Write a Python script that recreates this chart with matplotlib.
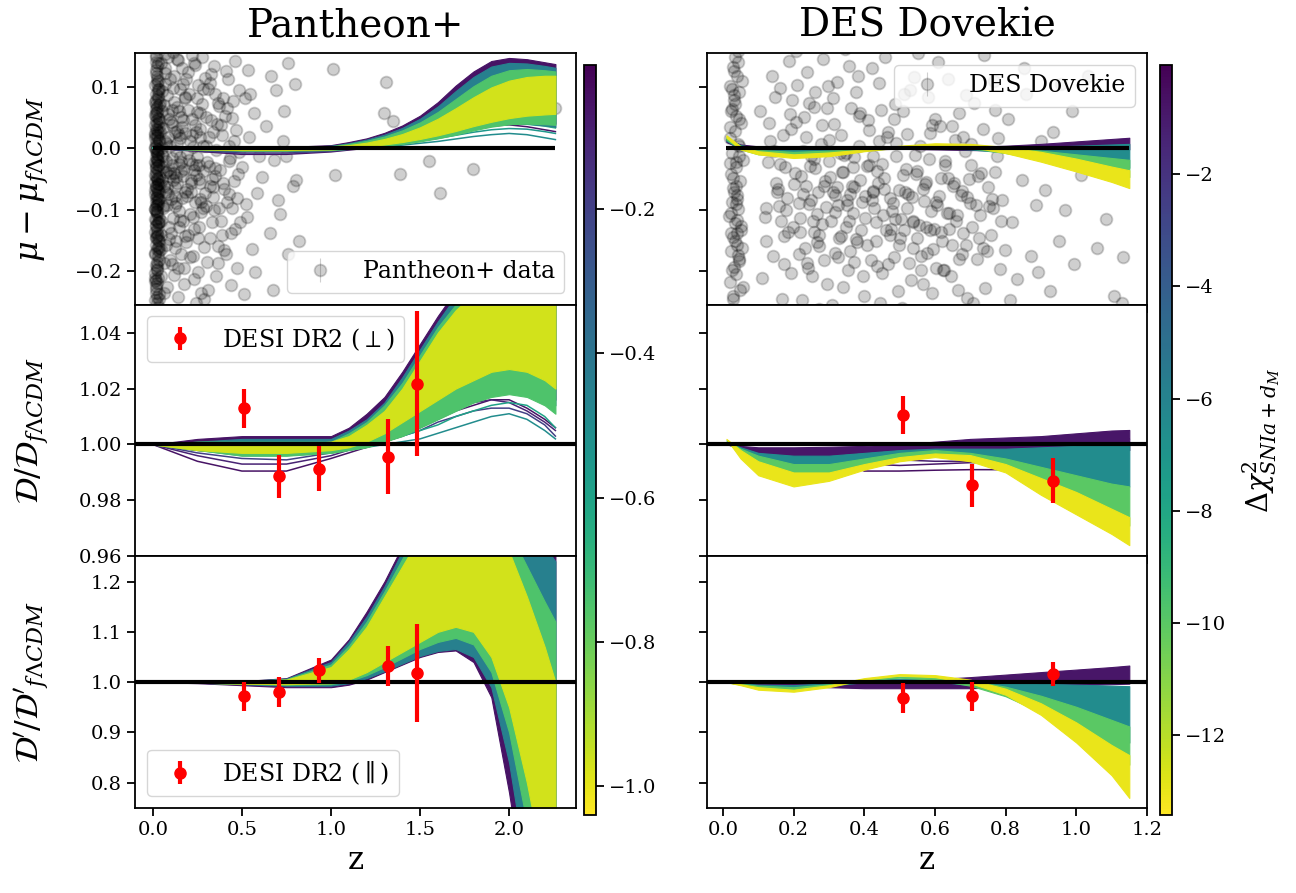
import numpy as np
import matplotlib.pyplot as plt
from matplotlib.colors import Normalize
from matplotlib.cm import ScalarMappable

plt.rcParams['font.family'] = ['DejaVu Serif']
plt.rcParams['mathtext.fontset'] = 'dejavuserif'
plt.rcParams['xtick.labelsize'] = 14
plt.rcParams['ytick.labelsize'] = 14
plt.rcParams['axes.linewidth'] = 1.3
plt.rcParams['xtick.major.width'] = 1.3
plt.rcParams['ytick.major.width'] = 1.3
plt.rcParams['xtick.major.size'] = 6
plt.rcParams['ytick.major.size'] = 6

# ---------------- Pantheon+ residuals ----------------
pan_z = [
    0.012, 0.025, 0.018, 0.031, 0.015, 0.022, 0.028, 0.010, 0.035, 0.020,
    0.027, 0.014, 0.033, 0.019, 0.024, 0.011, 0.030, 0.017, 0.022, 0.036,
    0.016, 0.029, 0.012, 0.023, 0.034, 0.019, 0.026, 0.013, 0.031, 0.021,
    0.028, 0.015, 0.024, 0.010, 0.033, 0.018, 0.027, 0.020, 0.014, 0.037,
    0.022, 0.012, 0.030, 0.017, 0.025, 0.035, 0.013, 0.021, 0.028, 0.016,
    0.031, 0.019, 0.011, 0.026, 0.023, 0.034, 0.015, 0.029, 0.018, 0.024,
    0.013, 0.027, 0.020, 0.032, 0.016, 0.024, 0.011, 0.029, 0.036, 0.019,
    0.025, 0.014, 0.030, 0.021, 0.017, 0.033, 0.012, 0.027, 0.022, 0.018,
    0.020, 0.026, 0.015, 0.031, 0.023, 0.012, 0.029, 0.018, 0.034, 0.024,
    0.017, 0.028, 0.021, 0.013, 0.032, 0.025, 0.019, 0.030, 0.015, 0.026,
    0.014, 0.021, 0.027, 0.018, 0.032, 0.011, 0.024, 0.016, 0.029, 0.020,
    0.023, 0.017, 0.030, 0.012, 0.026, 0.019, 0.034, 0.015, 0.022, 0.028,
    0.019, 0.025, 0.013, 0.031, 0.017, 0.027, 0.021, 0.010, 0.024, 0.033,
    0.026, 0.012, 0.020, 0.029, 0.015, 0.023, 0.018, 0.032, 0.014, 0.021,
    0.016, 0.030, 0.024, 0.011, 0.027, 0.019, 0.035, 0.022, 0.013, 0.025,
    0.045, 0.052, 0.061, 0.048, 0.070, 0.057, 0.066, 0.075, 0.083, 0.091,
    0.044, 0.058, 0.072, 0.086, 0.095, 0.063, 0.079, 0.050, 0.099, 0.068,
    0.104, 0.112, 0.121, 0.108, 0.130, 0.117, 0.126, 0.135, 0.143, 0.151,
    0.102, 0.115, 0.128, 0.139, 0.147, 0.156, 0.164, 0.172, 0.181, 0.189,
    0.160, 0.168, 0.177, 0.185, 0.194, 0.198, 0.153, 0.141, 0.124, 0.110,
    0.205, 0.213, 0.222, 0.230, 0.238, 0.247, 0.255, 0.264, 0.272, 0.281,
    0.208, 0.219, 0.227, 0.236, 0.244, 0.252, 0.261, 0.269, 0.277, 0.289,
    0.293, 0.216, 0.241, 0.266, 0.284, 0.297, 0.225, 0.250, 0.274, 0.233,
    0.304, 0.312, 0.321, 0.329, 0.338, 0.346, 0.355, 0.363, 0.372, 0.380,
    0.308, 0.317, 0.334, 0.351, 0.367, 0.389, 0.397, 0.325, 0.342, 0.376,
    0.405, 0.414, 0.422, 0.431, 0.440, 0.448, 0.457, 0.466, 0.474, 0.483,
    0.410, 0.427, 0.444, 0.461, 0.478, 0.492, 0.436, 0.419, 0.453, 0.470,
    0.502, 0.515, 0.528, 0.541, 0.555, 0.568, 0.582, 0.596, 0.509, 0.535,
    0.612, 0.634, 0.657, 0.681, 0.704, 0.728, 0.756, 0.785, 0.548, 0.575,
    0.056, 0.083, 0.137, 0.171, 0.199, 0.258, 0.319, 0.359, 0.393, 0.425,
    0.074, 0.091, 0.118, 0.147, 0.183, 0.221, 0.262, 0.301, 0.347, 0.386,
    0.665, 0.690, 0.712, 0.737, 0.761, 0.803, 0.821, 0.672, 0.745, 0.798,
    0.035, 0.042, 0.047, 0.054, 0.059, 0.064, 0.069, 0.077, 0.081, 0.088,
    0.038, 0.046, 0.053, 0.062, 0.067, 0.073, 0.079, 0.087, 0.094, 0.097,
    0.101, 0.107, 0.113, 0.119, 0.125, 0.132, 0.138, 0.145, 0.152, 0.158,
    0.106, 0.114, 0.122, 0.129, 0.136, 0.144, 0.149, 0.162, 0.169, 0.176,
    0.166, 0.174, 0.179, 0.187, 0.192, 0.196, 0.201, 0.211, 0.218, 0.224,
    0.229, 0.235, 0.242, 0.248, 0.254, 0.259, 0.267, 0.271, 0.279, 0.286,
    0.291, 0.299, 0.306, 0.314, 0.322, 0.331, 0.339, 0.348, 0.356, 0.366,
    0.374, 0.383, 0.391, 0.401, 0.412, 0.429, 0.446, 0.463, 0.486, 0.521,
    0.041, 0.058, 0.085, 0.109, 0.133, 0.157, 0.183, 0.207, 0.232, 0.262,
    0.049, 0.071, 0.096, 0.127, 0.154, 0.178, 0.215, 0.245, 0.283, 0.336,
    1.01, 1.31, 1.30, 1.35, 2.26, 1.02, 1.39, 1.55, 1.80, 1.61,
]
pan_mu = [
    0.182, 0.161, 0.148, 0.139, 0.127, 0.118, 0.110, 0.103, 0.096, 0.088,
    0.081, 0.075, 0.070, 0.064, 0.059, 0.054, 0.049, 0.044, 0.040, 0.035,
    0.031, 0.026, 0.022, 0.018, 0.013, 0.009, 0.005, 0.001, -0.003, -0.007,
    -0.011, -0.015, -0.019, -0.023, -0.027, -0.031, -0.035, -0.039, -0.043, -0.047,
    -0.051, -0.055, -0.059, -0.063, -0.067, -0.071, -0.075, -0.079, -0.083, -0.087,
    -0.091, -0.095, -0.099, -0.104, -0.108, -0.113, -0.117, -0.122, -0.127, -0.132,
    -0.137, -0.142, -0.147, -0.152, -0.158, -0.164, -0.170, -0.176, -0.183, -0.190,
    -0.197, -0.204, -0.212, -0.220, -0.229, -0.238, -0.248, -0.259, -0.270, -0.285,
    0.052, 0.021, -0.004, -0.028, -0.049, -0.068, -0.086, -0.103, -0.121, -0.143,
    0.122, 0.093, 0.067, 0.038, 0.012, -0.017, -0.062, -0.161, -0.214, -0.252,
    0.167, 0.134, 0.097, 0.072, 0.043, 0.016, -0.009, -0.033, -0.058, -0.081,
    -0.102, -0.125, -0.149, -0.173, -0.198, -0.224, -0.245, 0.152, 0.113, 0.085,
    0.057, 0.029, 0.002, -0.021, -0.045, -0.069, -0.093, -0.116, -0.139, -0.163,
    -0.186, -0.211, -0.236, -0.265, 0.141, 0.106, 0.078, 0.047, 0.024, -0.001,
    -0.026, -0.052, -0.076, -0.099, -0.121, -0.145, -0.168, -0.192, -0.217, -0.243,
    0.138, -0.052, 0.071, -0.164, 0.012, -0.097, 0.104, -0.021, 0.055, -0.128,
    -0.208, 0.033, -0.071, 0.149, -0.046, -0.236, 0.087, 0.001, -0.182, 0.122,
    0.042, -0.113, 0.118, -0.027, -0.151, 0.075, -0.064, 0.009, -0.196, 0.097,
    -0.082, 0.156, -0.005, -0.242, 0.061, -0.037, 0.131, -0.119, 0.024, -0.078,
    -0.172, 0.046, -0.221, 0.112, -0.008, -0.141, 0.016, 0.143, -0.094, -0.189,
    0.089, -0.056, 0.021, -0.132, 0.136, -0.015, -0.201, 0.058, -0.088, 0.004,
    -0.107, 0.151, -0.175, 0.037, -0.044, 0.103, -0.129, -0.236, 0.072, -0.161,
    0.115, -0.071, -0.252, 0.031, -0.037, -0.094, 0.002, 0.081, 0.148, -0.213,
    -0.022, 0.097, -0.146, 0.046, -0.079, 0.134, -0.003, -0.187, 0.068, -0.118,
    -0.231, 0.018, -0.051, 0.088, -0.159, 0.021, -0.067, 0.121, -0.101, -0.035,
    0.052, -0.088, 0.113, -0.016, -0.139, 0.077, -0.053, 0.029, -0.196, 0.094,
    -0.172, 0.004, -0.098, 0.142, -0.042, -0.121, -0.223, 0.066, 0.011, -0.081,
    -0.031, 0.081, -0.112, 0.018, -0.164, 0.058, -0.073, -0.012, -0.238, 0.128,
    -0.047, 0.036, -0.138, -0.019, -0.084, 0.012, -0.173, -0.061, 0.089, -0.201,
    -0.013, -0.035, 0.028, -0.046, 0.062, -0.028, -0.062, 0.039, 0.081, -0.021,
    0.009, -0.148, -0.041, -0.102, 0.084, -0.026, -0.056, 0.003, -0.033, -0.142,
    0.118, 0.094, -0.107, 0.061, 0.139, -0.052, -0.152, -0.231, -0.012, 0.105,
    -0.083, 0.027, -0.142, 0.093, -0.031, -0.187, 0.154, -0.064, -0.226, 0.048,
    0.073, -0.118, -0.011, -0.062, 0.131, -0.157, -0.093, 0.019, 0.112, -0.041,
    -0.138, 0.063, -0.052, -0.207, 0.027, -0.089, 0.145, -0.025, -0.117, 0.051,
    -0.016, 0.098, -0.163, -0.047, 0.067, -0.128, 0.022, -0.081, 0.105, -0.195,
    0.034, -0.034, 0.081, -0.153, -0.066, 0.124, -0.019, -0.177, 0.047, -0.112,
    0.139, -0.087, -0.028, 0.059, -0.146, -0.051, 0.018, -0.104, 0.096, -0.245,
    -0.073, 0.051, -0.186, -0.029, 0.106, -0.121, 0.026, -0.045, -0.209, 0.073,
    -0.098, 0.037, -0.057, -0.166, 0.126, -0.075, 0.049, -0.131, -0.006, -0.091,
    -0.058, -0.094, -0.074, 0.038, -0.057, -0.023, -0.071, 0.012, -0.036, -0.083,
    0.061, -0.039, 0.004, -0.078, -0.015, -0.143, -0.052, 0.026, -0.097, -0.064,
    0.129, 0.108, 0.057, 0.044, 0.066, -0.044, -0.042, -0.021, -0.034, -0.073,
]

# ---------------- DES Dovekie residuals ----------------
des_z = [
    0.022, 0.035, 0.028, 0.041, 0.019, 0.047, 0.031, 0.025, 0.038, 0.052,
    0.033, 0.020, 0.044, 0.027, 0.056, 0.036, 0.024, 0.049, 0.030, 0.039,
    0.026, 0.043, 0.018, 0.034, 0.050, 0.029, 0.040, 0.023, 0.046, 0.032,
    0.037, 0.021, 0.048, 0.030, 0.025, 0.042, 0.054, 0.033, 0.019, 0.045,
    0.028, 0.039, 0.023, 0.051, 0.035, 0.044, 0.027, 0.031, 0.047, 0.036,
    0.040, 0.024, 0.058, 0.032, 0.045, 0.021, 0.037, 0.053, 0.029, 0.043,
    0.105, 0.118, 0.127, 0.134, 0.142, 0.151, 0.163, 0.172, 0.181, 0.194,
    0.112, 0.139, 0.158, 0.177, 0.189, 0.123, 0.146, 0.168, 0.198, 0.131,
    0.186, 0.155, 0.121, 0.174, 0.148, 0.203, 0.211, 0.219, 0.227, 0.234,
    0.242, 0.249, 0.257, 0.265, 0.272, 0.280, 0.288, 0.295, 0.206, 0.214,
    0.223, 0.231, 0.238, 0.246, 0.254, 0.262, 0.269, 0.277, 0.285, 0.292,
    0.208, 0.236, 0.259, 0.283, 0.299, 0.217, 0.244, 0.271, 0.226, 0.253,
    0.303, 0.311, 0.318, 0.326, 0.334, 0.341, 0.349, 0.357, 0.364, 0.372,
    0.380, 0.387, 0.395, 0.306, 0.322, 0.338, 0.353, 0.369, 0.384, 0.398,
    0.314, 0.329, 0.345, 0.361, 0.376, 0.391, 0.308, 0.331, 0.359, 0.382,
    0.323, 0.367, 0.352, 0.403, 0.411, 0.418, 0.426, 0.434, 0.441, 0.449,
    0.457, 0.464, 0.472, 0.480, 0.487, 0.495, 0.407, 0.422, 0.438, 0.453,
    0.468, 0.483, 0.498, 0.414, 0.429, 0.445, 0.460, 0.476, 0.491, 0.436,
    0.503, 0.511, 0.519, 0.526, 0.534, 0.542, 0.549, 0.557, 0.565, 0.572,
    0.580, 0.588, 0.595, 0.507, 0.522, 0.538, 0.553, 0.568, 0.584, 0.599,
    0.515, 0.546, 0.576, 0.530, 0.561, 0.591, 0.605, 0.613, 0.621, 0.629,
    0.637, 0.645, 0.652, 0.660, 0.668, 0.676, 0.684, 0.692, 0.699, 0.610,
    0.626, 0.641, 0.657, 0.673, 0.688, 0.618, 0.649, 0.680, 0.703, 0.711,
    0.719, 0.727, 0.735, 0.743, 0.751, 0.759, 0.767, 0.775, 0.783, 0.791,
    0.708, 0.739, 0.771, 0.797, 0.806, 0.818, 0.831, 0.845, 0.858, 0.872,
    0.886, 0.899, 0.813, 0.852, 0.893, 0.912, 0.934, 0.951, 0.968, 0.987,
    0.926, 0.958, 0.993, 1.012, 1.034, 1.058, 1.083, 1.106, 1.128, 1.131,
    0.164, 0.193, 0.267, 0.296, 0.343, 0.371, 0.447, 0.488, 0.539, 0.586,
    0.633, 0.664, 0.697, 0.725, 0.763, 0.248, 0.318, 0.425, 0.512, 0.603,
    0.152, 0.171, 0.185, 0.201, 0.216, 0.229, 0.243, 0.258, 0.273, 0.287,
    0.301, 0.316, 0.327, 0.339, 0.351, 0.363, 0.377, 0.389, 0.401, 0.413,
    0.424, 0.437, 0.449, 0.461, 0.473, 0.485, 0.497, 0.509, 0.521, 0.533,
    0.544, 0.556, 0.567, 0.579, 0.591, 0.603, 0.616, 0.628, 0.641, 0.654,
    0.667, 0.679, 0.692, 0.706, 0.721, 0.737, 0.753, 0.769, 0.787, 0.162,
    0.178, 0.196, 0.221, 0.239, 0.262, 0.281, 0.297, 0.312, 0.333, 0.347,
    0.358, 0.372, 0.386, 0.397, 0.409, 0.421, 0.432, 0.443, 0.455, 0.466,
    0.478, 0.489, 0.501, 0.513, 0.524, 0.537, 0.549, 0.562, 0.574, 0.587,
    0.598, 0.611, 0.623, 0.636, 0.648, 0.662, 0.676, 0.689, 0.701, 0.715,
    0.731, 0.746, 0.762, 0.778, 0.032, 0.027, 0.041, 0.036, 0.024, 0.045,
]
des_mu = [
    0.171, 0.148, 0.133, 0.117, 0.102, 0.091, 0.079, 0.064, 0.052, 0.041,
    0.028, 0.017, 0.006, -0.008, -0.019, -0.031, -0.042, -0.054, -0.065, -0.076,
    -0.088, -0.099, -0.111, -0.122, -0.134, -0.145, -0.157, -0.168, -0.181, -0.193,
    -0.205, -0.218, -0.231, -0.246, -0.262, 0.159, 0.109, 0.072, 0.035, -0.012,
    -0.048, -0.083, -0.105, -0.127, -0.152, -0.174, -0.199, 0.125, 0.003, -0.062,
    -0.117, -0.139, -0.226, 0.086, 0.047, -0.024, -0.091, -0.163, -0.241, 0.140,
    0.061, -0.112, -0.023, 0.012, -0.175, -0.057, 0.098, -0.143, -0.081, 0.031,
    -0.212, 0.118, -0.094, -0.031, 0.056, -0.152, -0.004, -0.245, -0.128, 0.041,
    0.142, -0.066, -0.097, -0.188, 0.084, -0.041, 0.103, -0.137, -0.074, 0.018,
    -0.196, -0.012, 0.067, -0.108, -0.159, 0.037, -0.053, -0.221, 0.158, -0.089,
    -0.248, -0.162, 0.124, -0.029, -0.118, 0.091, -0.071, 0.006, -0.183, -0.096,
    0.043, -0.062, -0.137, 0.146, -0.021, -0.114, 0.073, -0.262, -0.005, -0.208,
    -0.047, 0.082, -0.171, -0.093, 0.021, -0.226, -0.128, 0.134, -0.061, -0.015,
    -0.153, 0.057, -0.087, -0.119, 0.108, -0.039, -0.198, -0.106, 0.003, -0.241,
    0.039, -0.147, 0.161, -0.074, 0.091, -0.134, -0.255, -0.008, -0.168, 0.118,
    -0.064, -0.031, -0.093, -0.078, 0.046, -0.182, -0.012, -0.121, 0.107, -0.203,
    -0.049, 0.018, -0.141, -0.089, 0.072, -0.232, -0.157, 0.131, -0.056, -0.109,
    0.027, -0.177, -0.068, -0.027, -0.098, -0.253, 0.149, -0.132, 0.009, -0.037,
    -0.115, 0.061, -0.034, -0.187, -0.079, 0.116, -0.146, 0.004, -0.221, -0.058,
    0.083, -0.102, -0.165, -0.261, 0.023, -0.118, 0.155, -0.086, -0.017, 0.047,
    -0.071, -0.042, -0.129, 0.094, -0.198, -0.236, -0.093, 0.036, -0.152, -0.027,
    0.112, -0.209, -0.061, -0.118, 0.058, -0.172, -0.004, -0.244, -0.089, 0.141,
    -0.198, -0.132, 0.013, -0.077, 0.087, -0.049, -0.157, -0.139, -0.028, 0.073,
    -0.181, -0.109, 0.031, -0.227, -0.064, -0.142, 0.109, -0.012, -0.197, -0.084,
    -0.253, 0.152, -0.038, -0.166, 0.048, -0.121, -0.213, -0.052, 0.088, -0.176,
    -0.093, 0.012, -0.247, 0.131, -0.201, -0.068, 0.027, -0.151, -0.101, 0.061,
    -0.232, 0.104, -0.189, -0.043, 0.117, -0.162, -0.115, -0.241, -0.252, -0.178,
    -0.118, -0.203, -0.153, 0.066, -0.011, -0.186, 0.063, -0.116, -0.162, -0.134,
    -0.106, -0.231, -0.051, -0.146, -0.097, -0.084, -0.077, -0.072, -0.133, -0.195,
    -0.071, 0.022, -0.136, -0.058, -0.172, 0.051, -0.091, -0.018, -0.141, -0.062,
    0.014, -0.104, -0.177, -0.039, -0.084, 0.066, -0.148, -0.052, -0.113, 0.029,
    -0.069, -0.192, -0.026, -0.133, -0.081, 0.047, -0.158, -0.043, -0.097, -0.214,
    -0.011, -0.125, -0.066, -0.171, 0.038, -0.088, -0.137, -0.021, -0.106, -0.057,
    -0.181, 0.019, -0.079, -0.128, -0.046, -0.163, -0.094, 0.063, -0.119, -0.026,
    -0.101, 0.079, -0.045, -0.187, -0.032, -0.124, 0.102, -0.071, -0.143, -0.008,
    -0.118, -0.063, 0.053, -0.209, -0.029, -0.085, -0.152, 0.011, -0.066, -0.189,
    -0.102, -0.013, -0.147, 0.088, -0.074, -0.121, -0.037, -0.176, -0.055, 0.024,
    -0.131, -0.078, -0.199, -0.048, 0.036, -0.109, -0.069, -0.157, 0.007, -0.092,
    -0.041, -0.168, -0.083, 0.017, -0.072, 0.096, -0.139, -0.023, 0.061, -0.184,
]

# ---------------- DESI DR2 BAO points ----------------
desi_z = [0.510, 0.706, 0.934, 1.321, 1.484]
pan_dm = [1.013, 0.9886, 0.9914, 0.9957, 1.0218]
pan_dm_err = [0.0070, 0.0077, 0.0080, 0.0134, 0.0260]
pan_dh = [0.972, 0.980, 1.024, 1.032, 1.018]
pan_dh_err = [0.029, 0.030, 0.025, 0.039, 0.097]
des_dm = [1.0104, 0.9854, 0.9870]
des_dm_err = [0.0068, 0.0078, 0.0080]
des_dh = [0.968, 0.972, 1.016]
des_dh_err = [0.030, 0.029, 0.024]

# ---------------- curve families: envelopes per colour group + stray curves ----------------
pan_nodes = [0.0, 0.25, 0.5, 0.75, 1.0, 1.1, 1.2, 1.3, 1.4, 1.5, 1.6, 1.7, 1.8, 1.9, 2.0, 2.1, 2.2, 2.26]
pan_chi = [-0.05, -0.45, -0.75, -0.97]
pan_mu_hi = [
    [0.000, 0.001, 0.001, 0.002, 0.005, 0.010, 0.016, 0.025, 0.037, 0.053, 0.075, 0.102, 0.125, 0.142, 0.147, 0.145, 0.140, 0.137],
    [0.000, 0.000, 0.000, 0.001, 0.004, 0.008, 0.014, 0.022, 0.033, 0.048, 0.068, 0.093, 0.116, 0.133, 0.139, 0.138, 0.134, 0.131],
    [0.000, 0.000, 0.000, 0.001, 0.003, 0.007, 0.012, 0.019, 0.029, 0.042, 0.059, 0.080, 0.101, 0.118, 0.127, 0.129, 0.127, 0.125],
    [0.000, 0.000, 0.001, 0.001, 0.003, 0.005, 0.009, 0.015, 0.023, 0.034, 0.048, 0.065, 0.083, 0.099, 0.110, 0.116, 0.118, 0.118],
]
pan_mu_lo = [
    [0.000, -0.003, -0.005, -0.005, -0.003, -0.001, 0.002, 0.006, 0.011, 0.017, 0.024, 0.031, 0.038, 0.043, 0.046, 0.045, 0.042, 0.040],
    [0.000, -0.003, -0.004, -0.004, -0.003, -0.001, 0.001, 0.005, 0.009, 0.014, 0.020, 0.026, 0.032, 0.037, 0.040, 0.040, 0.037, 0.035],
    [0.000, -0.002, -0.004, -0.004, -0.003, -0.001, 0.001, 0.004, 0.007, 0.011, 0.016, 0.022, 0.029, 0.035, 0.039, 0.040, 0.039, 0.038],
    [0.000, -0.002, -0.003, -0.003, -0.002, 0.000, 0.003, 0.006, 0.010, 0.015, 0.021, 0.028, 0.036, 0.043, 0.049, 0.053, 0.055, 0.056],
]
pan_mu_line_chi = [-0.05, -0.2, -0.5, -0.55, -0.65]
pan_mu_lines = [
    [0.000, -0.005, -0.010, -0.010, -0.006, -0.003, 0.000, 0.004, 0.009, 0.015, 0.021, 0.027, 0.032, 0.036, 0.038, 0.035, 0.030, 0.027],
    [0.000, -0.004, -0.008, -0.008, -0.005, -0.002, 0.001, 0.005, 0.010, 0.016, 0.022, 0.029, 0.035, 0.040, 0.043, 0.041, 0.037, 0.034],
    [0.000, -0.003, -0.005, -0.005, -0.003, -0.001, 0.001, 0.003, 0.005, 0.008, 0.011, 0.015, 0.019, 0.022, 0.024, 0.022, 0.017, 0.014],
    [0.000, -0.003, -0.005, -0.004, -0.002, 0.000, 0.002, 0.005, 0.008, 0.012, 0.016, 0.021, 0.026, 0.030, 0.032, 0.031, 0.027, 0.024],
    [0.000, -0.002, -0.004, -0.004, -0.002, 0.000, 0.003, 0.006, 0.010, 0.014, 0.019, 0.025, 0.031, 0.036, 0.039, 0.039, 0.036, 0.033],
]
pan_dm_hi = [
    [1.000, 1.002, 1.003, 1.003, 1.003, 1.006, 1.011, 1.017, 1.026, 1.036, 1.046, 1.055, 1.063, 1.070, 1.076, 1.080, 1.082, 1.082],
    [1.000, 1.001, 1.002, 1.002, 1.002, 1.005, 1.009, 1.015, 1.024, 1.034, 1.044, 1.053, 1.061, 1.067, 1.072, 1.075, 1.076, 1.075],
    [1.000, 1.001, 1.001, 1.001, 1.001, 1.004, 1.008, 1.014, 1.022, 1.032, 1.042, 1.050, 1.057, 1.062, 1.066, 1.068, 1.068, 1.067],
    [1.000, 1.000, 1.000, 1.000, 1.001, 1.003, 1.007, 1.012, 1.020, 1.030, 1.040, 1.048, 1.054, 1.058, 1.060, 1.061, 1.060, 1.058],
]
pan_dm_lo = [
    [1.000, 0.998, 0.997, 0.997, 0.998, 0.999, 1.000, 1.002, 1.005, 1.009, 1.013, 1.017, 1.020, 1.022, 1.023, 1.022, 1.019, 1.016],
    [1.000, 0.998, 0.997, 0.997, 0.998, 0.999, 1.000, 1.002, 1.004, 1.007, 1.011, 1.015, 1.018, 1.020, 1.021, 1.020, 1.017, 1.014],
    [1.000, 0.998, 0.996, 0.996, 0.997, 0.998, 0.999, 1.001, 1.003, 1.006, 1.009, 1.012, 1.015, 1.017, 1.018, 1.017, 1.014, 1.011],
    [1.000, 0.998, 0.997, 0.997, 0.998, 0.999, 1.001, 1.004, 1.008, 1.012, 1.016, 1.020, 1.023, 1.026, 1.027, 1.026, 1.023, 1.020],
]
pan_dm_line_chi = [-0.05, -0.1, -0.2, -0.5, -0.6]
pan_dm_lines = [
    [1.000, 0.994, 0.9905, 0.9905, 0.995, 0.997, 0.999, 1.001, 1.003, 1.006, 1.009, 1.012, 1.014, 1.016, 1.016, 1.013, 1.009, 1.006],
    [1.000, 0.996, 0.993, 0.993, 0.996, 0.998, 1.000, 1.002, 1.004, 1.007, 1.010, 1.013, 1.015, 1.016, 1.015, 1.012, 1.008, 1.005],
    [1.000, 0.997, 0.995, 0.9945, 0.997, 0.998, 0.999, 1.001, 1.003, 1.005, 1.008, 1.010, 1.012, 1.013, 1.013, 1.011, 1.007, 1.003],
    [1.000, 0.998, 0.996, 0.996, 0.997, 0.998, 0.999, 1.000, 1.001, 1.002, 1.004, 1.006, 1.008, 1.010, 1.011, 1.009, 1.005, 1.002],
    [1.000, 0.998, 0.997, 0.997, 0.998, 0.999, 1.000, 1.001, 1.003, 1.005, 1.007, 1.010, 1.012, 1.014, 1.015, 1.014, 1.010, 1.006],
]
pan_dh_hi = [
    [1.000, 1.000, 1.002, 1.008, 1.045, 1.085, 1.140, 1.200, 1.270, 1.330, 1.380, 1.410, 1.420, 1.400, 1.360, 1.320, 1.280, 1.260],
    [1.000, 1.000, 1.002, 1.007, 1.040, 1.080, 1.130, 1.190, 1.260, 1.320, 1.370, 1.400, 1.410, 1.390, 1.350, 1.310, 1.270, 1.240],
    [1.000, 1.000, 1.001, 1.006, 1.035, 1.072, 1.120, 1.180, 1.245, 1.305, 1.355, 1.385, 1.390, 1.360, 1.300, 1.230, 1.160, 1.120],
    [1.000, 1.000, 1.001, 1.005, 1.030, 1.065, 1.110, 1.170, 1.230, 1.290, 1.340, 1.370, 1.370, 1.330, 1.260, 1.170, 1.070, 1.000],
]
pan_dh_lo = [
    [1.000, 0.998, 0.994, 0.990, 0.990, 0.995, 1.005, 1.020, 1.035, 1.050, 1.060, 1.063, 1.040, 0.970, 0.780, 0.550, 0.350, 0.250],
    [1.000, 0.999, 0.996, 0.993, 0.993, 0.998, 1.008, 1.022, 1.037, 1.052, 1.062, 1.066, 1.050, 0.990, 0.840, 0.620, 0.420, 0.320],
    [1.000, 0.999, 0.997, 0.995, 0.996, 1.002, 1.014, 1.030, 1.048, 1.066, 1.080, 1.088, 1.075, 1.020, 0.900, 0.720, 0.530, 0.430],
    [1.000, 0.999, 0.997, 0.996, 0.998, 1.005, 1.020, 1.040, 1.060, 1.080, 1.100, 1.110, 1.100, 1.050, 0.950, 0.800, 0.620, 0.500],
]

des_nodes = [0.01, 0.05, 0.1, 0.2, 0.3, 0.4, 0.5, 0.6, 0.7, 0.8, 0.9, 1.0, 1.1, 1.15]
des_chi = [-0.8, -6.5, -10.0, -13.0]
des_mu_hi = [
    [0.015, 0.006, 0.003, 0.001, 0.000, 0.000, 0.000, 0.001, 0.002, 0.004, 0.007, 0.011, 0.015, 0.017],
    [0.016, 0.005, 0.000, -0.002, -0.001, 0.000, 0.002, 0.003, 0.003, 0.002, 0.002, 0.004, 0.006, 0.007],
    [0.018, 0.004, -0.003, -0.006, -0.004, -0.001, 0.003, 0.005, 0.004, 0.001, -0.004, -0.010, -0.016, -0.019],
    [0.021, 0.003, -0.005, -0.010, -0.007, -0.002, 0.004, 0.008, 0.007, 0.002, -0.006, -0.017, -0.030, -0.036],
]
des_mu_lo = [
    [0.010, 0.000, -0.004, -0.006, -0.004, -0.002, -0.001, -0.002, -0.003, -0.004, -0.004, -0.003, -0.002, -0.002],
    [0.012, -0.001, -0.007, -0.010, -0.007, -0.003, 0.000, 0.000, -0.002, -0.007, -0.013, -0.020, -0.028, -0.032],
    [0.014, -0.002, -0.010, -0.013, -0.010, -0.004, 0.001, 0.002, 0.000, -0.008, -0.018, -0.029, -0.041, -0.047],
    [0.017, -0.002, -0.010, -0.016, -0.013, -0.005, 0.001, 0.004, 0.002, -0.008, -0.022, -0.038, -0.055, -0.065],
]
des_dm_hi = [
    [1.000, 0.9995, 0.999, 0.999, 0.9992, 0.9995, 1.000, 1.001, 1.002, 1.0025, 1.003, 1.004, 1.005, 1.0052],
    [1.001, 0.999, 0.997, 0.996, 0.996, 0.997, 0.998, 0.9985, 0.9985, 0.9985, 0.999, 0.9995, 0.9995, 0.9995],
    [1.0015, 0.9985, 0.996, 0.993, 0.993, 0.995, 0.997, 0.998, 0.997, 0.995, 0.992, 0.989, 0.986, 0.985],
    [1.002, 0.998, 0.994, 0.990, 0.990, 0.993, 0.9955, 0.9968, 0.9962, 0.993, 0.988, 0.983, 0.977, 0.974],
]
des_dm_lo = [
    [1.000, 0.999, 0.997, 0.9955, 0.996, 0.997, 0.998, 0.998, 0.998, 0.9975, 0.9975, 0.998, 0.998, 0.998],
    [1.001, 0.997, 0.993, 0.990, 0.990, 0.993, 0.995, 0.996, 0.995, 0.993, 0.990, 0.988, 0.986, 0.985],
    [1.0015, 0.996, 0.991, 0.987, 0.988, 0.992, 0.995, 0.996, 0.995, 0.991, 0.986, 0.980, 0.974, 0.971],
    [1.002, 0.995, 0.989, 0.985, 0.987, 0.991, 0.994, 0.9955, 0.994, 0.990, 0.982, 0.975, 0.968, 0.964],
]
des_dm_line_chi = [-0.6, -0.9, -1.2]
des_dm_lines = [
    [1.000, 0.999, 0.998, 0.997, 0.996, 0.9905, 0.9905, 0.9908, 0.991, 0.991, 0.994, 0.997, 0.999, 1.000],
    [1.000, 0.999, 0.998, 0.997, 0.996, 0.993, 0.9925, 0.993, 0.9935, 0.9935, 0.995, 0.998, 1.000, 1.001],
    [1.000, 0.999, 0.998, 0.997, 0.9965, 0.995, 0.9945, 0.994, 0.994, 0.9945, 0.996, 0.999, 1.001, 1.002],
]
des_dh_hi = [
    [1.000, 0.999, 0.998, 0.999, 1.000, 1.001, 1.003, 1.006, 1.010, 1.015, 1.020, 1.025, 1.030, 1.033],
    [1.000, 0.998, 0.995, 0.994, 0.998, 1.004, 1.007, 1.007, 1.004, 1.000, 0.997, 0.995, 0.993, 0.992],
    [1.000, 0.997, 0.993, 0.990, 0.996, 1.006, 1.011, 1.010, 1.003, 0.991, 0.973, 0.951, 0.925, 0.912],
    [1.000, 0.996, 0.990, 0.985, 0.994, 1.008, 1.016, 1.014, 1.005, 0.987, 0.958, 0.920, 0.875, 0.855],
]
des_dh_lo = [
    [1.000, 0.998, 0.996, 0.994, 0.990, 0.988, 0.988, 0.988, 0.988, 0.990, 0.992, 0.994, 0.996, 0.997],
    [1.000, 0.996, 0.991, 0.988, 0.993, 1.000, 1.004, 1.002, 0.994, 0.978, 0.955, 0.925, 0.895, 0.880],
    [1.000, 0.995, 0.988, 0.985, 0.992, 1.004, 1.009, 1.005, 0.993, 0.972, 0.940, 0.900, 0.858, 0.836],
    [1.000, 0.994, 0.985, 0.981, 0.990, 1.005, 1.013, 1.010, 0.998, 0.975, 0.935, 0.880, 0.815, 0.770],
]

cmap = plt.get_cmap('viridis_r')
pan_norm = Normalize(vmin=-1.04, vmax=0.0)
des_norm = Normalize(vmin=-13.43, vmax=-0.05)


def draw_fan(ax, nodes, chis, lows, highs, norm):
    for chi, lo, hi in zip(chis, lows, highs):
        ax.fill_between(nodes, lo, hi, color=cmap(norm(chi)), lw=0.8, zorder=2)


def draw_lines(ax, nodes, chis, lines, norm):
    for chi, line in zip(chis, lines):
        ax.plot(nodes, line, color=cmap(norm(chi)), lw=1.1, zorder=2)


def draw_sn(ax, z, mu, label):
    ax.errorbar(z, mu, yerr=0.0, fmt='o', color='k', ms=8.5, mew=1.3,
                alpha=0.19, elinewidth=0.8, label=label, zorder=1)


fig = plt.figure(figsize=(12.96, 8.93), dpi=100)
h = 0.2818
bottoms = [0.6588, 0.3770, 0.0952]
axL = [fig.add_axes([0.1042, b, 0.3403, h]) for b in bottoms]
axR = [fig.add_axes([0.5455, b, 0.3395, h]) for b in bottoms]

# ---- left column: Pantheon+ ----
ax = axL[0]
draw_sn(ax, pan_z, pan_mu, 'Pantheon+ data')
draw_lines(ax, pan_nodes, pan_mu_line_chi, pan_mu_lines, pan_norm)
draw_fan(ax, pan_nodes, pan_chi, pan_mu_lo, pan_mu_hi, pan_norm)
ax.hlines(0.0, pan_nodes[0], pan_nodes[-1], color='k', lw=3, zorder=3)
ax.set_ylim(-0.255, 0.155)
ax.set_yticks([0.1, 0.0, -0.1, -0.2])
ax.set_ylabel(r'$\mu-\mu_{f\Lambda CDM}$', fontsize=23)
ax.set_title('Pantheon+', fontsize=28, pad=12)
ax.legend(loc='lower right', fontsize=17)

ax = axL[1]
draw_lines(ax, pan_nodes, pan_dm_line_chi, pan_dm_lines, pan_norm)
draw_fan(ax, pan_nodes, pan_chi, pan_dm_lo, pan_dm_hi, pan_norm)
ax.axhline(1.0, color='k', lw=3, zorder=3)
ax.errorbar(desi_z, pan_dm, yerr=pan_dm_err, fmt='o', color='red', ms=8,
            elinewidth=3, label=r'DESI DR2 ($\perp$)', zorder=4)
ax.set_ylim(0.96, 1.05)
ax.set_yticks([0.96, 0.98, 1.00, 1.02, 1.04])
ax.set_ylabel(r'$\mathcal{D}/\mathcal{D}_{f\Lambda CDM}$', fontsize=23)
ax.legend(loc='upper left', fontsize=17)

ax = axL[2]
draw_fan(ax, pan_nodes, pan_chi, pan_dh_lo, pan_dh_hi, pan_norm)
ax.axhline(1.0, color='k', lw=3, zorder=3)
ax.errorbar(desi_z, pan_dh, yerr=pan_dh_err, fmt='o', color='red', ms=8,
            elinewidth=3, label=r'DESI DR2 ($\parallel$)', zorder=4)
ax.set_ylim(0.75, 1.25)
ax.set_yticks([0.8, 0.9, 1.0, 1.1, 1.2])
ax.set_ylabel(r"$\mathcal{D}'/\mathcal{D}'_{f\Lambda CDM}$", fontsize=23)
ax.set_xlabel('z', fontsize=22)
ax.legend(loc='lower left', fontsize=17)

for ax in axL:
    ax.set_xlim(-0.1, 2.376)
    ax.set_xticks([0.0, 0.5, 1.0, 1.5, 2.0])
    ax.yaxis.set_label_coords(-0.19, 0.5)
for ax in axL[:2]:
    ax.tick_params(labelbottom=False)

# ---- right column: DES Dovekie ----
ax = axR[0]
draw_sn(ax, des_z, des_mu, 'DES Dovekie')
draw_fan(ax, des_nodes, des_chi, des_mu_lo, des_mu_hi, des_norm)
ax.hlines(0.0, des_nodes[0], des_nodes[-1], color='k', lw=3, zorder=3)
ax.set_ylim(-0.255, 0.155)
ax.set_yticks([0.1, 0.0, -0.1, -0.2])
ax.set_title('DES Dovekie', fontsize=28, pad=12)
ax.legend(loc='upper right', fontsize=17)

ax = axR[1]
draw_lines(ax, des_nodes, des_dm_line_chi, des_dm_lines, des_norm)
draw_fan(ax, des_nodes, des_chi, des_dm_lo, des_dm_hi, des_norm)
ax.axhline(1.0, color='k', lw=3, zorder=3)
ax.errorbar(desi_z[:3], des_dm, yerr=des_dm_err, fmt='o', color='red', ms=8,
            elinewidth=3, zorder=4)
ax.set_ylim(0.96, 1.05)
ax.set_yticks([0.96, 0.98, 1.00, 1.02, 1.04])

ax = axR[2]
draw_fan(ax, des_nodes, des_chi, des_dh_lo, des_dh_hi, des_norm)
ax.axhline(1.0, color='k', lw=3, zorder=3)
ax.errorbar(desi_z[:3], des_dh, yerr=des_dh_err, fmt='o', color='red', ms=8,
            elinewidth=3, zorder=4)
ax.set_ylim(0.75, 1.25)
ax.set_yticks([0.8, 0.9, 1.0, 1.1, 1.2])
ax.set_xlabel('z', fontsize=22)

for ax in axR:
    ax.set_xlim(-0.045, 1.2)
    ax.set_xticks([0.0, 0.2, 0.4, 0.6, 0.8, 1.0, 1.2])
    ax.tick_params(labelleft=False)
for ax in axR[:2]:
    ax.tick_params(labelbottom=False)

# ---- colour bars ----
cax1 = fig.add_axes([0.4506, 0.0873, 0.0093, 0.8399])
cb1 = fig.colorbar(ScalarMappable(norm=pan_norm, cmap=cmap), cax=cax1)
cb1.set_ticks([-1.0, -0.8, -0.6, -0.4, -0.2])

cax2 = fig.add_axes([0.8951, 0.0873, 0.0093, 0.8399])
cb2 = fig.colorbar(ScalarMappable(norm=des_norm, cmap=cmap), cax=cax2)
cb2.set_ticks([-12, -10, -8, -6, -4, -2])
cb2.set_label(r'$\Delta\chi^2_{SNIa+d_M}$', fontsize=21, labelpad=10)

fig.savefig('out.png', dpi=100)
